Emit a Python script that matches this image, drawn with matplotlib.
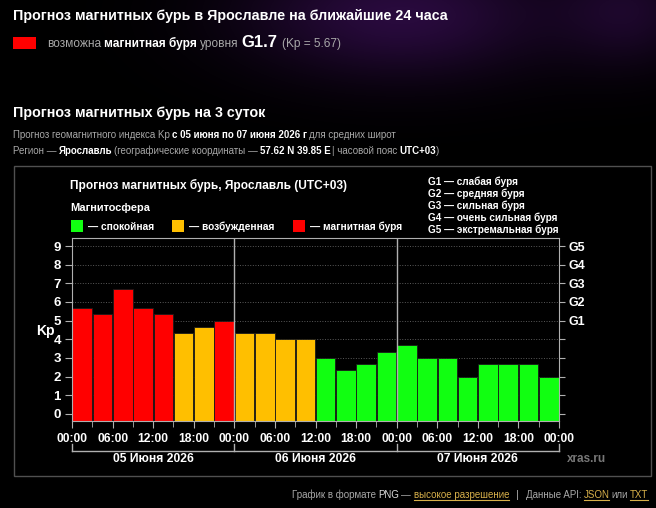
import matplotlib
matplotlib.use('Agg')
import matplotlib.pyplot as plt
import numpy as np
from matplotlib.patches import Rectangle
from matplotlib.lines import Line2D
from matplotlib.transforms import blended_transform_factory

# Kp forecast, 3-hour intervals, three days
kp_day1 = [5.67, 5.33, 6.67, 5.67, 5.33, 4.33, 4.67, 5.00]
kp_day2 = [4.33, 4.33, 4.00, 4.00, 3.00, 2.33, 2.67, 3.33]
kp_day3 = [3.67, 3.00, 3.00, 2.00, 2.67, 2.67, 2.67, 2.00]
day_labels = ['05 Июня 2026', '06 Июня 2026', '07 Июня 2026']
hour_labels = ['00:00', '06:00', '12:00', '18:00']
g_levels = ['G1', 'G2', 'G3', 'G4', 'G5']
g_names = ['слабая буря', 'средняя буря', 'сильная буря', 'очень сильная буря', 'экстремальная буря']

GREEN, ORANGE, RED = '#11ff11', '#ffbf00', '#ff0000'
GRAY = '#a8a8a8'

W, H = 656, 508
plt.rcParams['font.family'] = ['Liberation Sans', 'DejaVu Sans']
fig = plt.figure(figsize=(W / 100, H / 100), dpi=100, facecolor='black')
renderer = fig.canvas.get_renderer()


def fx(x):
    return x / W


def fy(y):
    return 1 - y / H


def rich(x, y, parts, underline=()):
    # parts: (text, color, weight, size, gap after)
    for i, (text, color, weight, size, gap) in enumerate(parts):
        t = fig.text(fx(x), fy(y), text, color=color, fontweight=weight,
                     fontsize=size, va='baseline', ha='left')
        w = t.get_window_extent(renderer).width
        if i in underline:
            fig.add_artist(Line2D([fx(x), fx(x + w)], [fy(y + 2), fy(y + 2)],
                                  color=color, lw=0.8))
        x += w + gap
    return x


# faint purple glow in the page background
bg = fig.add_axes([0, 0, 1, 1], zorder=-10)
bg.axis('off')
yy, xx = np.mgrid[0:H, 0:W]
glow = np.exp(-((xx - 400) ** 2 / (2 * 110 ** 2) + (yy - 15) ** 2 / (2 * 45 ** 2)))
glow += 0.6 * np.exp(-((xx - 630) ** 2 / (2 * 50 ** 2) + (yy - 10) ** 2 / (2 * 40 ** 2)))
img = np.zeros((H, W, 3))
img[..., 0] = 0.16 * glow
img[..., 1] = 0.04 * glow
img[..., 2] = 0.24 * glow
bg.imshow(np.clip(img, 0, 1), extent=[0, W, H, 0], aspect='auto')
bg.set_xlim(0, W)
bg.set_ylim(H, 0)

# header
fig.text(fx(13), fy(20), 'Прогноз магнитных бурь в Ярославле на ближайшие 24 часа',
         color='white', fontweight='bold', fontsize=10.3, va='baseline')
fig.add_artist(Rectangle((fx(13), fy(49)), 23 / W, 12 / H, transform=fig.transFigure,
                         facecolor=RED, edgecolor='none'))
rich(47, 47, [('возможна', GRAY, 'normal', 8.6, 3),
              ('магнитная буря', 'white', 'bold', 8.6, 3),
              ('уровня', GRAY, 'normal', 8.6, 3),
              ('G1.7', 'white', 'bold', 12, 4),
              ('(Kp = 5.67)', GRAY, 'normal', 8.6, 0)])

fig.text(fx(13), fy(117), 'Прогноз магнитных бурь на 3 суток',
         color='white', fontweight='bold', fontsize=10.3, va='baseline')
rich(13, 138, [('Прогноз геомагнитного индекса Kp', GRAY, 'normal', 7, 2),
               ('с 05 июня по 07 июня 2026 г', 'white', 'bold', 7, 2),
               ('для средних широт', GRAY, 'normal', 7, 0)])
rich(13, 154, [('Регион —', GRAY, 'normal', 7, 2),
               ('Ярославль', 'white', 'bold', 7, 2),
               ('(географические координаты —', GRAY, 'normal', 7, 2),
               ('57.62 N 39.85 E', 'white', 'bold', 7, 2),
               ('| часовой пояс', GRAY, 'normal', 7, 2),
               ('UTC+03', 'white', 'bold', 7, 0),
               (')', GRAY, 'normal', 7, 0)])

# chart panel frame
fig.add_artist(Rectangle((fx(14), fy(476)), (651 - 14) / W, (476 - 166) / H,
                         transform=fig.transFigure, fill=False,
                         edgecolor='#505050', lw=1))

fig.text(fx(70), fy(189), 'Прогноз магнитных бурь, Ярославль (UTC+03)',
         color='white', fontweight='bold', fontsize=8.6, va='baseline')
fig.text(fx(70), fy(211), 'Магнитосфера', color='white', fontweight='bold',
         fontsize=7.9, va='baseline')
for x0, col, label in [(71, GREEN, '— спокойная'), (172, ORANGE, '— возбужденная'),
                       (293, RED, '— магнитная буря')]:
    fig.add_artist(Rectangle((fx(x0), fy(232)), 12 / W, 12 / H, transform=fig.transFigure,
                             facecolor=col, edgecolor='none'))
    fig.text(fx(x0 + 17), fy(230), label, color='white', fontweight='bold',
             fontsize=7.3, va='baseline')
for i, (g, name) in enumerate(zip(g_levels, g_names)):
    fig.text(fx(428), fy(185 + 12 * i), f'{g} — {name}', color='white',
             fontweight='bold', fontsize=7.2, va='baseline')

# bar chart
kp = np.array(kp_day1 + kp_day2 + kp_day3)
colors = [RED if v >= 5 else ORANGE if v >= 4 else GREEN for v in kp]
hours = np.arange(len(kp)) * 3 + 1.5
y0 = -0.38

ax = fig.add_axes([fx(72), fy(421), (559 - 72) / W, (421 - 238) / H])
ax.set_facecolor('black')
ax.bar(hours, kp - y0, bottom=y0, width=2.9, color=colors,
       edgecolor='#1a1a1a', linewidth=0.6, zorder=2)
ax.set_xlim(0, 72)
ax.set_ylim(y0, 9.43)
for d in (24, 48):
    ax.axvline(d, color='#b0b0b0', lw=1, zorder=3)
ax.set_yticks(range(10))
ax.yaxis.grid(True, color='#5a5a5a', linestyle=':', lw=0.7, zorder=1)
ax.set_xticks(range(0, 73, 6))
ax.set_xticklabels(hour_labels * 3 + ['00:00'])
ax.set_xticks(range(0, 73, 3), minor=True)
for s in ax.spines.values():
    s.set_color('#b0b0b0')
ax.tick_params(colors='#b0b0b0', labelcolor='white', labelsize=8.7, length=5)
ax.tick_params(axis='x', which='minor', colors='#b0b0b0', length=4)
ax.tick_params(axis='y', pad=3, labelsize=9.5)
for lab in ax.get_xticklabels() + ax.get_yticklabels():
    lab.set_fontweight('bold')

ax2 = ax.twinx()
ax2.set_ylim(ax.get_ylim())
ax2.set_yticks(range(10))
ax2.set_yticklabels([''] * 5 + g_levels)
ax2.tick_params(colors='#b0b0b0', labelcolor='white', labelsize=9, length=4, pad=3)
for lab in ax2.get_yticklabels():
    lab.set_fontweight('bold')
for s in ax2.spines.values():
    s.set_visible(False)

fig.text(fx(45), fy(331), 'Kp', color='white', fontweight='bold', fontsize=10,
         ha='center', va='center')

# day brackets under the time axis
tr = blended_transform_factory(ax.transData, ax.transAxes)
ax.plot([0, 72], [-0.164, -0.164], color='#b0b0b0', lw=1, transform=tr, clip_on=False)
for d in (0, 24, 48, 72):
    ax.plot([d, d], [-0.164, -0.128], color='#b0b0b0', lw=1, transform=tr, clip_on=False)
for i, label in enumerate(day_labels):
    ax.text(24 * i + 12, -0.208, label, color='white', fontweight='bold', fontsize=8.7,
            ha='center', va='center', transform=tr)
fig.text(fx(567), fy(459), 'xras.ru', color='#777777', fontweight='bold', fontsize=8.5,
         va='center')

# footer
LINK = '#d8b04a'
rich(292, 498, [('График в формате', GRAY, 'normal', 7, 2),
                ('PNG', '#dddddd', 'normal', 7, 2),
                ('—', GRAY, 'normal', 7, 3),
                ('высокое разрешение', LINK, 'normal', 7, 7),
                ('|', GRAY, 'normal', 8, 7),
                ('Данные API:', GRAY, 'normal', 7, 2),
                ('JSON', LINK, 'normal', 7, 2),
                ('или', GRAY, 'normal', 7, 2),
                ('TXT', LINK, 'normal', 7, 0)], underline=(3, 6, 8))

fig.savefig('out.png', dpi=100, facecolor='black')
